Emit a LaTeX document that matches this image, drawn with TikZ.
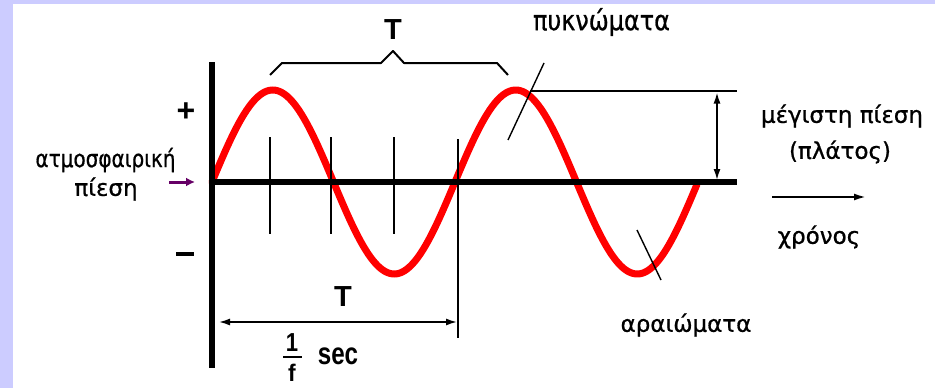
\documentclass[tikz,border=0pt]{standalone}
\usepackage{fontspec}
\setmainfont{DejaVu Sans}[FakeBold=0.8]
\newfontfamily\hvb{Liberation Sans}[UprightFont=* Bold]
\usetikzlibrary{arrows.meta}
\definecolor{frame}{HTML}{CCCCFF}
\definecolor{purp}{HTML}{660066}
\tikzset{
  lbl/.style={inner sep=0pt, font=\fontsize{23}{27}\selectfont},
  blbl/.style={inner sep=0pt, font=\hvb\fontsize{29}{32}\selectfont},
  axisline/.style={line width=5.5pt},
  tickline/.style={line width=2.6pt},
  thinline/.style={line width=1.4pt},
  wave/.style={red, line width=7pt, line cap=round},
  dimarrow/.style={line width=1.6pt, {Latex[length=11pt,width=7pt]}-{Latex[length=11pt,width=7pt]}},
}
\begin{document}
\begin{tikzpicture}[x=1pt,y=-1pt]
\useasboundingbox (0,0) rectangle (935,388);
\fill[white] (0,0) rectangle (935,388);
\fill[frame] (0,0) rectangle (13,388);
\fill[frame] (0,0) rectangle (935,4);
% coordinates
\coordinate (O) at (212,182);
\coordinate (Ytop) at (212,62);
\coordinate (Ybot) at (212,368);
\coordinate (Xend) at (737,182);
% sine wave
\draw[wave] plot[domain=0:485, samples=240] ({212+\x}, {182 - 92*sin(\x/243*360)});
% axes
\draw[axisline] (Ytop) -- (Ybot);
\draw[axisline] (209.5,182) -- (Xend);
% amplitude top line
\coordinate (Atl) at (530,91);
\coordinate (Atr) at (737,91);
\draw[line width=2.6pt] (Atl) -- (Atr);
\coordinate (Aa) at (717,92.5);
\coordinate (Ab) at (717,180);
\draw[dimarrow] (Aa) -- (Ab);
% ticks
\foreach \t in {270,331,394}{\draw[tickline] (\t,137) -- (\t,234);}
\coordinate (Lt) at (458,139);
\coordinate (Lb) at (458,338);
\draw[tickline] (Lt) -- (Lb);
% bottom period arrow
\coordinate (Dl) at (219,322);
\coordinate (Dr) at (457,322);
\draw[dimarrow] (Dl) -- (Dr);
\node[blbl] (Tb) at (343,297) {T};
% 1/f sec
\node[inner sep=0pt, anchor=base, font=\hvb\fontsize{26}{30}\selectfont] (one) at (292,351) {\scalebox{0.85}[1]{1}};
\coordinate (Fl) at (283,357);
\coordinate (Fr) at (302,357);
\draw[line width=2.6pt] (Fl) -- (Fr);
\node[inner sep=0pt, anchor=base, font=\hvb\fontsize{24}{28}\selectfont] (eff) at (292,381.5) {\scalebox{0.95}[1]{f}};
\node[inner sep=0pt, font=\hvb\fontsize{31}{34}\selectfont] (sec) at (338,356) {\scalebox{0.78}[1]{sec}};
% top brace
\draw[line width=2pt, line join=round] (270,75) -- (282,63) -- (381,63) -- (393,51) -- (404,63) -- (497,63) -- (508,75);
\node[blbl] (Tt) at (393,30) {T};
% plus minus
\node[inner sep=0pt, font=\hvb\fontsize{32}{34}\selectfont] (plus) at (186,112) {+};
\node[inner sep=0pt] (minus) at (185,254) {\rule{18pt}{4pt}};
% left labels
\node[lbl] (atm) at (105.5,160) {\scalebox{0.87}[1.05]{ατμοσφαιρική}};
\node[lbl] (pie) at (106,189) {πίεση};
\coordinate (Pa) at (169,182);
\coordinate (Pb) at (195,182);
\draw[purp, line width=3pt, -{Latex[length=9pt,width=9pt]}] (Pa) -- (Pb);
% pykn
\node[lbl] (pyk) at (601.5,22) {\scalebox{1.04}[1.2]{πυκνώματα}};
\coordinate (Pk1) at (544,63);
\coordinate (Pk2) at (508,140);
\draw[thinline] (Pk1) -- (Pk2);
% araio
\node[lbl] (ara) at (686,325) {αραιώματα};
\coordinate (Ar1) at (637,230);
\coordinate (Ar2) at (661,280);
\draw[thinline] (Ar1) -- (Ar2);
% right labels
\node[lbl] (meg) at (842,116) {μέγιστη πίεση};
\node[lbl] (plat) at (840,152) {(πλάτος)};
\coordinate (Ta) at (772,197);
\coordinate (Tb2) at (866,197);
\draw[line width=2pt, -{Latex[length=12pt,width=7pt]}] (Ta) -- (Tb2);
\node[lbl] (chr) at (819,237) {χρόνος};
\end{tikzpicture}
\end{document}
